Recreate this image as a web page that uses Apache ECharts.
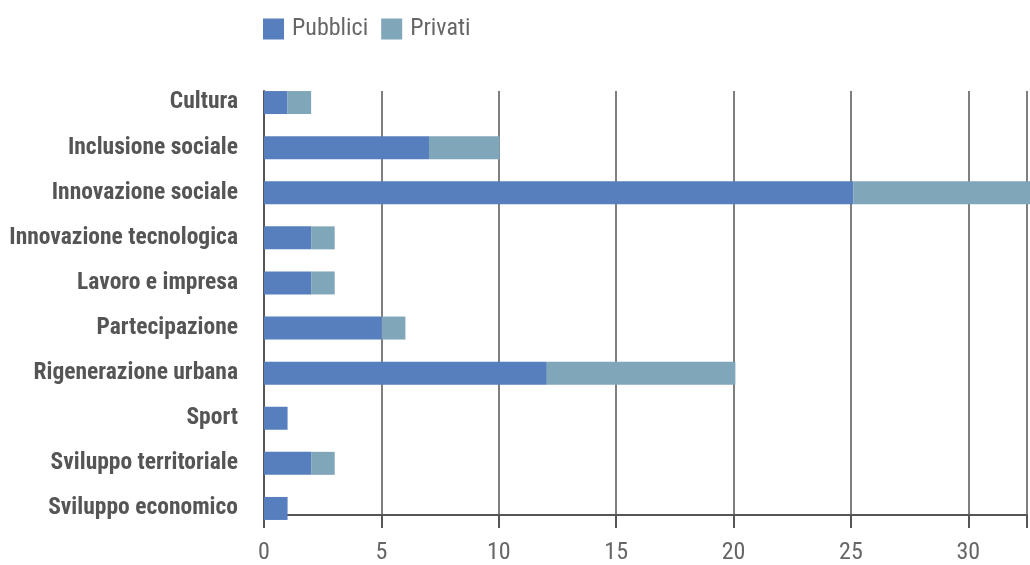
<!DOCTYPE html>
<html><head><meta charset="utf-8">
<script src="https://cdn.jsdelivr.net/npm/echarts@6/dist/echarts.min.js"></script>
<style>html,body{margin:0;padding:0;background:#fff}#c{width:1030px;height:565px}</style>
</head><body><div id="c"></div>
<script>
const categories = ["Cultura","Inclusione sociale","Innovazione sociale","Innovazione tecnologica","Lavoro e impresa","Partecipazione","Rigenerazione urbana","Sport","Sviluppo territoriale","Sviluppo economico"];
const pubblici = [1,7,25,2,2,5,12,1,2,1];
const privati = [1,3,8,1,1,1,8,0,1,0];
const xTicks = [0,5,10,15,20,25,30];

const condensed = "'Roboto Condensed','Liberation Sans Narrow','DejaVu Sans Condensed','Roboto',sans-serif";
const chart = echarts.init(document.getElementById('c'), null, {renderer:'canvas'});
chart.setOption({
  animation:false,
  color:['#577EBD','#80A6B9'],
  legend:{
    top:12, left:258, itemWidth:21, itemHeight:21, itemGap:13,
    icon:'rect',
    textStyle:{fontFamily:condensed, fontSize:24, color:'#666', fontWeight:'normal', padding:[4,0,0,3]},
    data:['Pubblici','Privati']
  },
  grid:[
    {left:264, right:0, top:80, height:451, containLabel:false},
    {left:264, right:0, top:91, height:429, containLabel:false}
  ],
  xAxis:[
    {gridIndex:0, type:'value', min:0, max:32.5, interval:5, show:false},
    {gridIndex:1, type:'value', min:0, max:32.5, interval:5,
     axisLine:{show:true, lineStyle:{color:'#555', width:2}},
     axisTick:{show:true, length:13, lineStyle:{color:'#555', width:2}},
     splitLine:{show:true, lineStyle:{color:'#555', width:1.5}},
     axisLabel:{fontFamily:condensed, fontSize:24, color:'#666', margin:26,
       formatter:function(v){return xTicks.indexOf(v)>=0?String(v):'';}}
    }
  ],
  yAxis:[
    {gridIndex:0, type:'category', data:categories, inverse:true,
     axisLine:{show:false}, axisTick:{show:false}, splitLine:{show:false},
     axisLabel:{fontFamily:condensed, fontSize:23.5, fontWeight:'bold', color:'#555', margin:26, padding:[2,0,0,0]}
    },
    {gridIndex:1, type:'value', min:0, max:1,
     axisLine:{show:true, lineStyle:{color:'#555', width:2}},
     axisTick:{show:false}, axisLabel:{show:false}, splitLine:{show:false}
    }
  ],
  series:[
    {name:'Pubblici', type:'bar', stack:'s', xAxisIndex:0, yAxisIndex:0, data:pubblici, barWidth:23},
    {name:'Privati', type:'bar', stack:'s', xAxisIndex:0, yAxisIndex:0, data:privati, barWidth:23}
  ]
});
</script></body></html>
